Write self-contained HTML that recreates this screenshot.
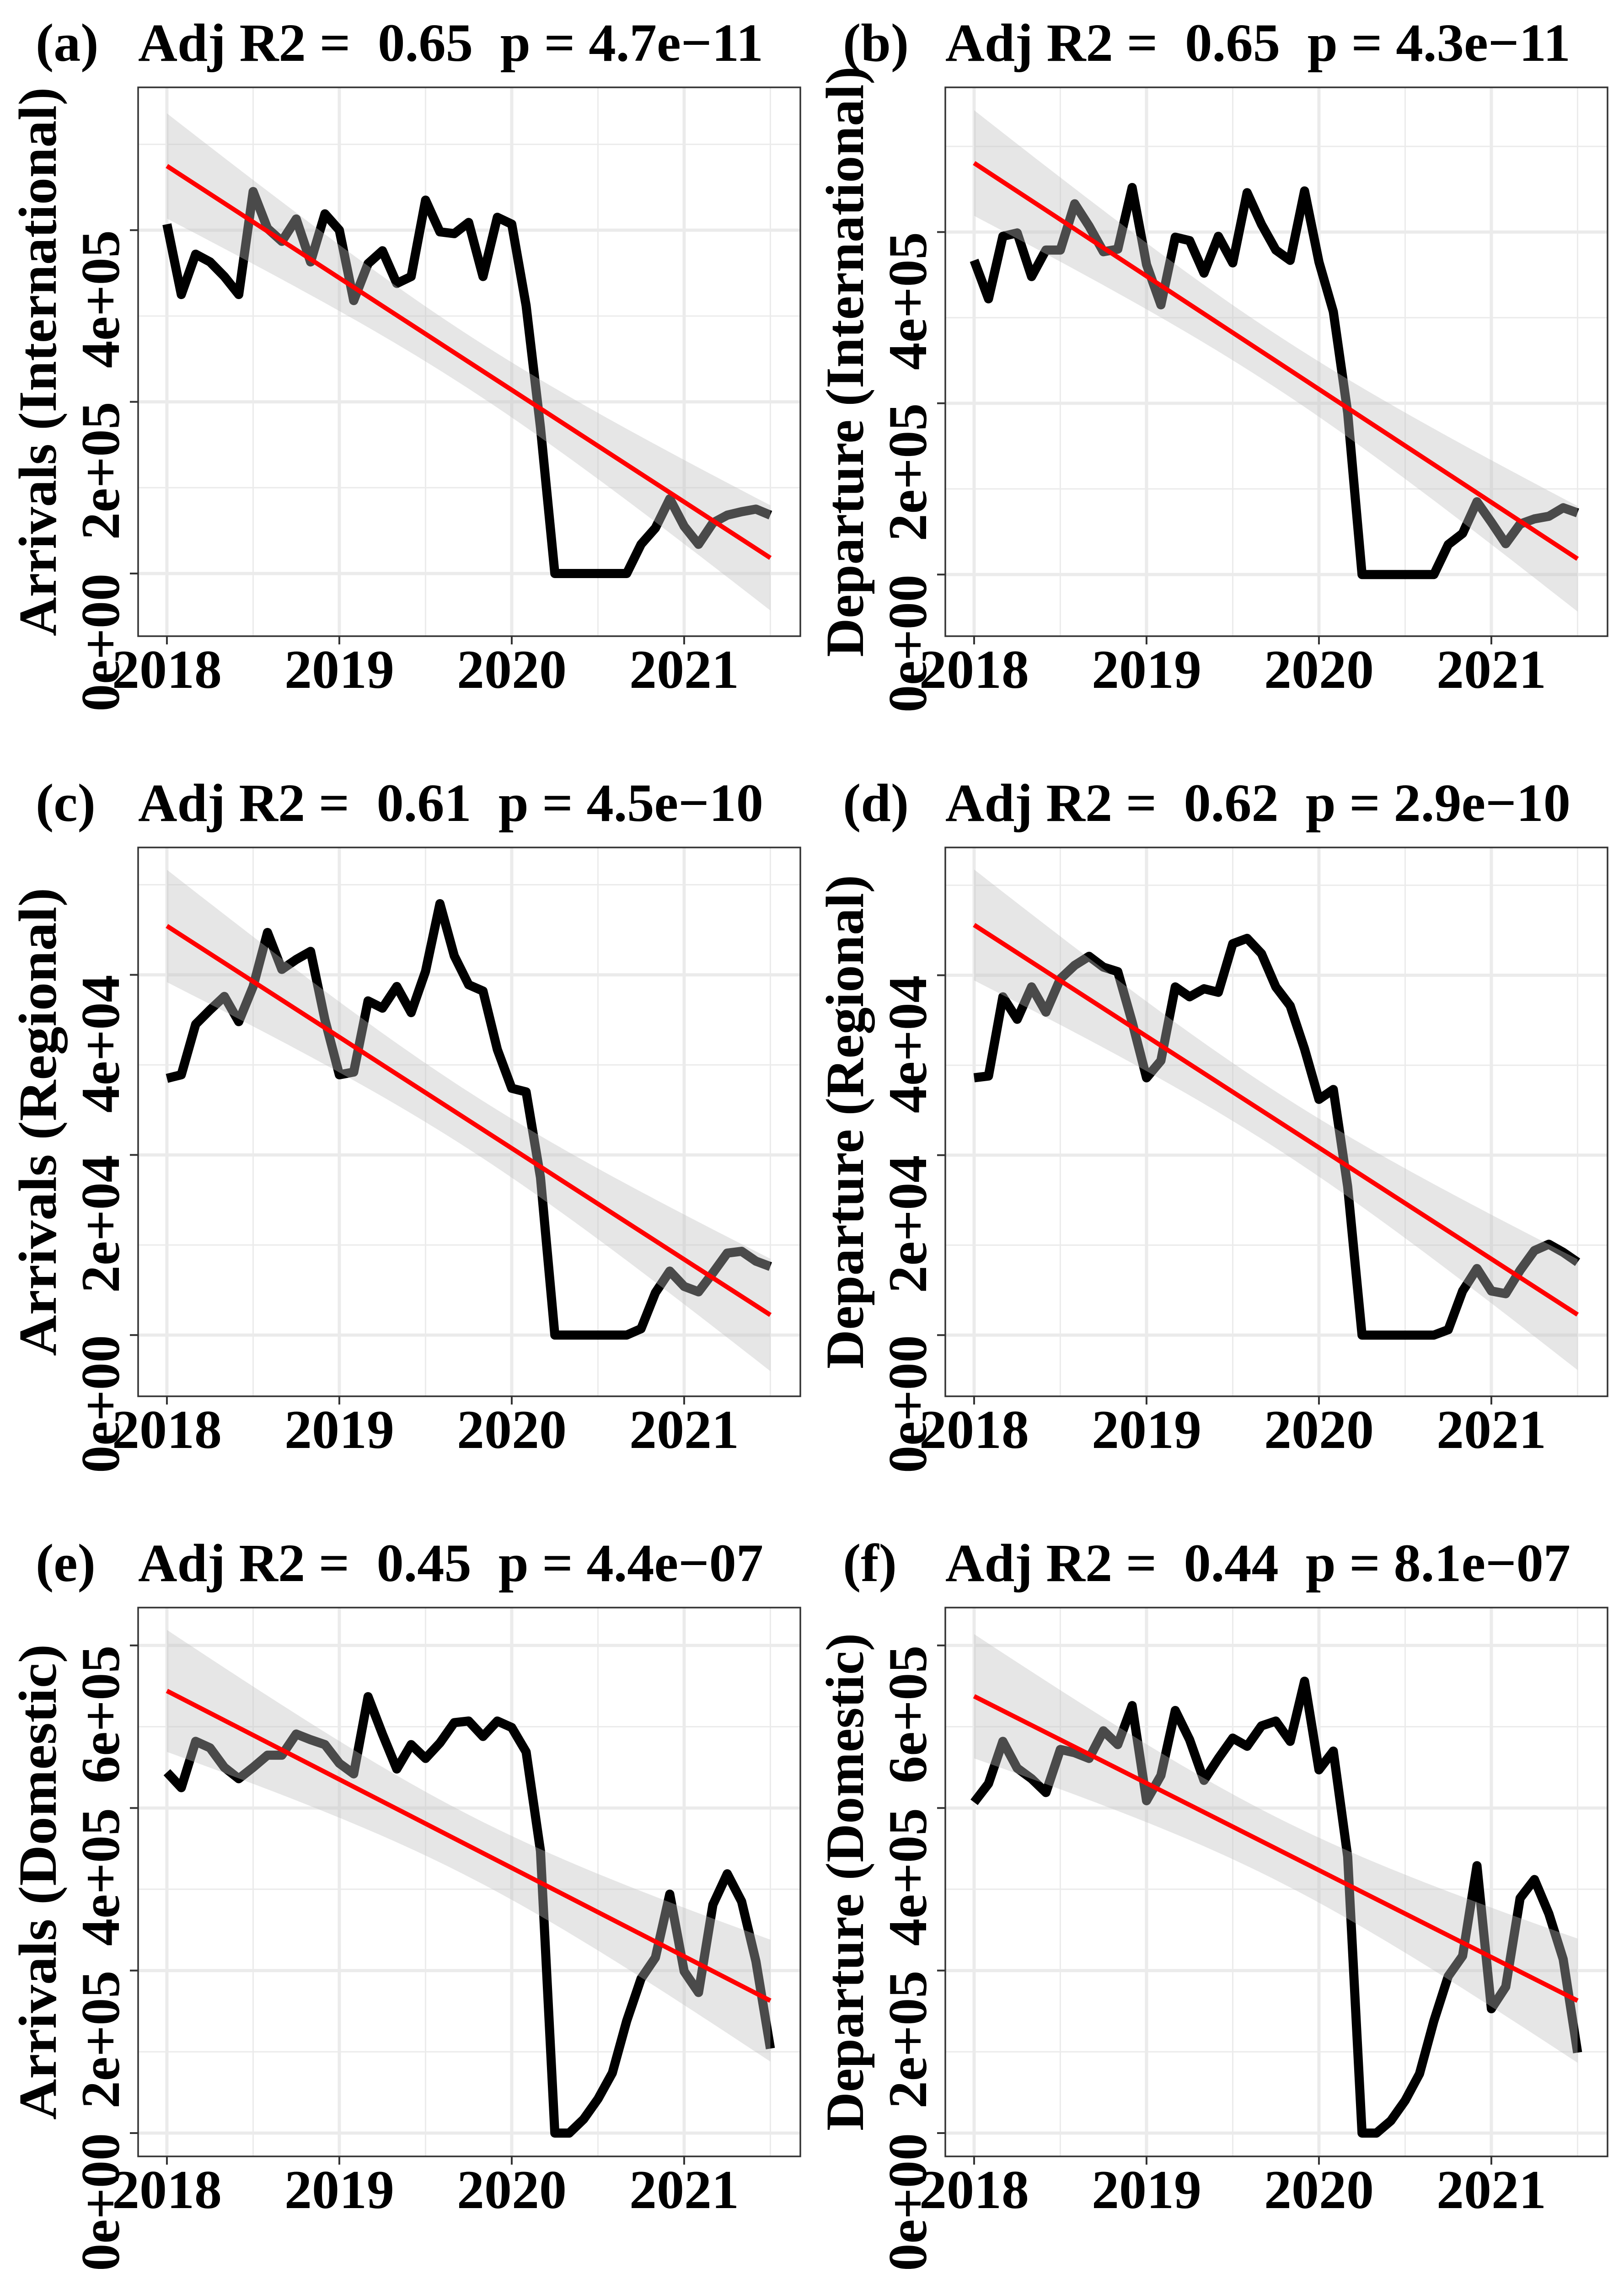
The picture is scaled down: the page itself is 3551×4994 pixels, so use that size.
<!DOCTYPE html>
<html><head><meta charset="utf-8">
<style>
html,body{margin:0;padding:0;background:#fff;}
svg{display:block;}
text{font-family:"Liberation Serif","Times New Roman",serif;font-weight:bold;fill:#000;}
</style></head>
<body>
<svg id="fig" xmlns="http://www.w3.org/2000/svg" width="3551" height="4994" viewBox="0 0 3551 4994"></svg>
<script>
// ---- data (values in thousands of passengers), monthly Jan 2018 .. Jul 2021 ----
const months = Array.from({length:43},(_,i)=>2018+i/12);
const arrIntl = [407,325,372,363,346,325,445,402,387,413,363,419,400,318,361,376,338,346,435,398,396,409,346,415,407,312,170,0,0,0,0,0,0,34,53,87,55,34,59,68,72,75,68];
const depIntl = [367,322,395,399,348,379,379,433,407,377,380,452,362,315,394,390,352,395,364,446,409,379,367,448,365,307,189,0,0,0,0,0,0,35,48,85,61,36,59,65,68,78,72];
const arrReg = [28.5,28.9,34.5,36.1,37.6,34.8,38.7,44.7,40.6,41.7,42.6,35.0,28.9,29.2,37.1,36.3,38.7,35.8,40.4,47.9,42.1,38.9,38.2,31.7,27.4,27.0,17.5,0,0,0,0,0,0,0.7,4.7,7.1,5.4,4.8,6.9,9.1,9.3,8.2,7.6];
const depReg = [28.6,28.8,37.6,35.1,38.7,35.9,39.6,41.1,42.1,40.9,40.4,34.8,28.6,30.5,38.7,37.6,38.5,38.1,43.5,44.1,42.4,38.7,36.6,31.8,26.2,27.3,16.5,0,0,0,0,0,0,0.6,4.9,7.4,4.9,4.6,7.2,9.4,10.1,9.2,8.1];
const arrDom = [444,425,482,474,450,436,450,465,465,491,484,478,455,442,537,491,448,478,461,480,505,507,488,507,499,469,347,0,0,17,42,74,138,190,216,294,199,173,281,319,285,211,104];
const depDom = [407,430,482,449,436,419,472,468,461,495,478,526,409,440,520,484,434,461,486,476,501,507,482,556,447,470,340,0,0,15,40,73,138,193,218,329,153,180,289,312,270,214,99];
const titles = ["Adj R2 =  0.65  p = 4.7e\u221211","Adj R2 =  0.65  p = 4.3e\u221211","Adj R2 =  0.61  p = 4.5e\u221210","Adj R2 =  0.62  p = 2.9e\u221210","Adj R2 =  0.45  p = 4.4e\u221207","Adj R2 =  0.44  p = 8.1e\u221207"];
const tags = ["(a)","(b)","(c)","(d)","(e)","(f)"];
const yTitles = ["Arrivals (International)","Departure (International)","Arrivals (Regional)","Departure (Regional)","Arrivals (Domestic)","Departure (Domestic)"];
const yTitleLens = [1200,1291,1024,1080,1040,1088];
const ticksIntl = [0,200,400];
const ticksIntlLabels = ["0e+00","2e+05","4e+05"];
const ticksReg = [0,20,40];
const ticksRegLabels = ["0e+00","2e+04","4e+04"];
const ticksDom = [0,200,400,600];
const ticksDomLabels = ["0e+00","2e+05","4e+05","6e+05"];
const xTicks = [2018,2019,2020,2021];
const xTickLabels = ["2018","2019","2020","2021"];

const NS="http://www.w3.org/2000/svg";
const svg=document.getElementById('fig');
function mk(tag,attrs,parent){const e=document.createElementNS(NS,tag);for(const k in attrs)e.setAttribute(k,attrs[k]);(parent||svg).appendChild(e);return e;}

const panels=[
 {series:arrIntl,ticks:ticksIntl,labels:ticksIntlLabels,minor:[100,300,500],dom:[-73,566.4],col:0,row:0,name:'arrivals-international'},
 {series:depIntl,ticks:ticksIntl,labels:ticksIntlLabels,minor:[100,300,500],dom:[-72,569],col:1,row:0,name:'departure-international'},
 {series:arrReg,ticks:ticksReg,labels:ticksRegLabels,minor:[10,30,50],dom:[-6.8,54.14],col:0,row:1,name:'arrivals-regional'},
 {series:depReg,ticks:ticksReg,labels:ticksRegLabels,minor:[10,30,50],dom:[-6.8,54.2],col:1,row:1,name:'departure-regional'},
 {series:arrDom,ticks:ticksDom,labels:ticksDomLabels,minor:[100,300,500],dom:[-28.7,646.6],col:0,row:2,name:'arrivals-domestic'},
 {series:depDom,ticks:ticksDom,labels:ticksDomLabels,minor:[100,300,500],dom:[-28.7,646.6],col:1,row:2,name:'departure-domestic'}
];
const W=1448,H=1200,X0=2017.833,PXY=377;

panels.forEach((p,k)=>{
 const L=p.col?2067:302, T=191+1662*p.row;
 const g=mk('g',{});
 
 
 const xs=t=>L+(t-X0)*PXY;
 const ys=v=>T+(p.dom[1]-v)/(p.dom[1]-p.dom[0])*H;
 const clipId='clip'+k;
 const cp=mk('clipPath',{id:clipId},g); mk('rect',{x:L,y:T,width:W,height:H},cp);
 const gg=mk('g',{'clip-path':'url(#'+clipId+')'},g);
 
 
 p.minor.forEach(v=>mk('line',{x1:L,x2:L+W,y1:ys(v),y2:ys(v),stroke:'#ebebeb','stroke-width':3},gg));
 [2018.5,2019.5,2020.5,2021.5].forEach(t=>mk('line',{x1:xs(t),x2:xs(t),y1:T,y2:T+H,stroke:'#ebebeb','stroke-width':3},gg));
 p.ticks.forEach(v=>mk('line',{x1:L,x2:L+W,y1:ys(v),y2:ys(v),stroke:'#ebebeb','stroke-width':7},gg));
 xTicks.forEach(t=>mk('line',{x1:xs(t),x2:xs(t),y1:T,y2:T+H,stroke:'#ebebeb','stroke-width':7},gg));
 const d=p.series.map((v,i)=>(i?'L':'M')+xs(months[i]).toFixed(1)+','+ys(v).toFixed(1)).join('');
 const ln=mk('path',{d:d,fill:'none',stroke:'#000','stroke-width':20,'stroke-linejoin':'round','stroke-linecap':'butt','clip-path':'url(#'+clipId+')'},g);
 
 
 const n=p.series.length;
 const mx=months.reduce((a,b)=>a+b,0)/n, my=p.series.reduce((a,b)=>a+b,0)/n;
 let sxx=0,sxy=0; for(let i=0;i<n;i++){sxx+=(months[i]-mx)**2;sxy+=(months[i]-mx)*(p.series[i]-my);}
 const b=sxy/sxx,a=my-b*mx;
 let sse=0; for(let i=0;i<n;i++){sse+=(p.series[i]-a-b*months[i])**2;}
 const s=Math.sqrt(sse/(n-2)), tq=2.0195;
 const up=[],lo=[];
 for(let j=0;j<=80;j++){const t=months[0]+(months[n-1]-months[0])*j/80;const f=a+b*t;const se=s*Math.sqrt(1/n+(t-mx)**2/sxx);up.push([xs(t),ys(f+tq*se)]);lo.push([xs(t),ys(f-tq*se)]);}
 const rd='M'+up.map(q=>q[0].toFixed(1)+','+q[1].toFixed(1)).join('L')+'L'+lo.reverse().map(q=>q[0].toFixed(1)+','+q[1].toFixed(1)).join('L')+'Z';
 const rb=mk('path',{d:rd,fill:'#bebebe','fill-opacity':0.39,stroke:'none','clip-path':'url(#'+clipId+')'},g);
 
 
 const fl=mk('line',{x1:xs(months[0]),y1:ys(a+b*months[0]),x2:xs(months[n-1]),y2:ys(a+b*months[n-1]),stroke:'#ff0000','stroke-width':10},g);
 
 
 const br=mk('rect',{x:L,y:T,width:W,height:H,fill:'none',stroke:'#333','stroke-width':3.5},g);
 
 
 p.ticks.forEach((v,i)=>{
  mk('line',{x1:L-18,x2:L,y1:ys(v),y2:ys(v),stroke:'#333','stroke-width':4},g);
  const tx=mk('text',{x:0,y:0,'font-size':120,'text-anchor':'end',transform:'translate('+(L-42)+','+ys(v)+') rotate(-90)'},g);
  tx.textContent=p.labels[i];
  
  
 });
 xTicks.forEach((t,i)=>{
  mk('line',{x1:xs(t),x2:xs(t),y1:T+H,y2:T+H+18,stroke:'#333','stroke-width':4},g);
  const tx=mk('text',{x:xs(t),y:T+H+113,'font-size':120,'text-anchor':'middle'},g);
  tx.textContent=xTickLabels[i];
  
  
 });
 const yt=mk('text',{x:0,y:0,'font-size':118,'text-anchor':'middle',textLength:yTitleLens[k],lengthAdjust:'spacingAndGlyphs',transform:'translate('+(L-180)+','+(T+H/2)+') rotate(-90)'},g);
 yt.textContent=yTitles[k];
 
 
 const tg=mk('text',{x:L-224,y:T-58,'font-size':118},g);
 tg.textContent=tags[k];
 
 
 const tt=mk('text',{x:L,y:T-58,'font-size':118,textLength:1367,lengthAdjust:'spacingAndGlyphs','xml:space':'preserve'},g);
 tt.setAttribute('style','white-space:pre');
 tt.textContent=titles[k];
 
 
});
</script>
</body></html>
